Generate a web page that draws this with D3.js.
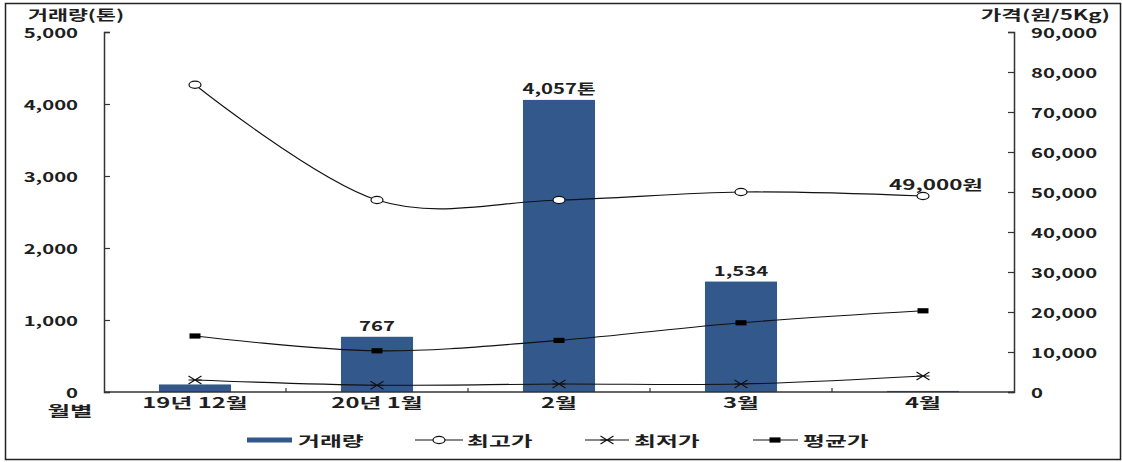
<!DOCTYPE html>
<html><head><meta charset="utf-8">
<script src="https://cdn.jsdelivr.net/npm/d3@7"></script>
<style>
html,body{margin:0;padding:0;background:#fff;}
svg text{font-family:"Noto Sans CJK KR","Noto Sans",sans-serif;font-weight:700;fill:#1e1e1e;}
</style></head>
<body><svg id="c" width="1122" height="462"></svg>
<script>
const categories = ["19년 12월", "20년 1월", "2월", "3월", "4월"];
const volume = [105, 767, 4057, 1534, 15];
const volumeLabels = ["", "767", "4,057톤", "1,534", ""];
const maxPrice = [76800, 48000, 48000, 50000, 49000];
const minPrice = [3000, 1700, 2000, 2000, 4000];
const avgPrice = [14000, 10300, 12900, 17300, 20300];
const maxPriceLabels = ["", "", "", "", "49,000원"];
const volumeTicks = [0, 1000, 2000, 3000, 4000, 5000];
const priceTicks = [0, 10000, 20000, 30000, 40000, 50000, 60000, 70000, 80000, 90000];
const seriesNames = ["거래량", "최고가", "최저가", "평균가"];

const svg = d3.select("#c");
const BAR = "#33598c";

function txt(x, y, s, anchor, size, sx) {
  return svg.append("text")
    .attr("transform", `translate(${x},${y}) scale(${sx || 1.45},1)`)
    .attr("text-anchor", anchor || "middle")
    .attr("dominant-baseline", "central")
    .style("font-size", (size || 14) + "px")
    .text(s);
}

// frame
svg.append("rect").attr("x", 5.5).attr("y", 3.5).attr("width", 1115).attr("height", 456)
  .attr("fill", "none").attr("stroke", "#222").attr("stroke-width", 1.5);

const L = 104, R = 1014, T = 32, B = 392;
const x = d3.scaleBand().domain(categories).range([L, R]).paddingInner(0.604).paddingOuter(0.302);
const cx = c => x(c) + x.bandwidth() / 2;
const yV = d3.scaleLinear().domain([0, 5000]).range([B, T]);
const yP = d3.scaleLinear().domain([0, 90000]).range([B, T]);

// bars
svg.append("g").selectAll("rect").data(categories).join("rect")
  .attr("x", c => x(c)).attr("width", x.bandwidth())
  .attr("y", (c, i) => yV(volume[i])).attr("height", (c, i) => B - yV(volume[i]))
  .attr("fill", BAR);

// axes
const gl = svg.append("g").attr("transform", `translate(${L},0)`)
  .call(d3.axisRight(yV).tickValues(volumeTicks).tickSize(6).tickFormat(""));
const gr = svg.append("g").attr("transform", `translate(${R},0)`)
  .call(d3.axisLeft(yP).tickValues(priceTicks).tickSize(6).tickFormat(""));
[gl, gr].forEach(g => {
  g.select(".domain").attr("stroke", "#333").attr("stroke-width", 1.5);
  g.selectAll(".tick line").attr("stroke", "#333").attr("stroke-width", 1.2);
});
svg.append("line").attr("x1", L).attr("x2", R).attr("y1", B).attr("y2", B)
  .attr("stroke", "#333").attr("stroke-width", 1.5);
const bounds = categories.slice(1).map(c => x(c) - x.step() * x.paddingInner() / 2);
svg.append("g").selectAll("line").data(bounds).join("line")
  .attr("x1", d => d).attr("x2", d => d).attr("y1", B).attr("y2", B - 4)
  .attr("stroke", "#333").attr("stroke-width", 1.2);

// tick labels
const fmt = d3.format(",");
volumeTicks.forEach(v => txt(78, yV(v), fmt(v), "end", 13.5, 1.5));
priceTicks.forEach(v => txt(1031, yP(v), fmt(v), "start", 13.5, 1.5));
categories.forEach(c => txt(cx(c), 402, c, "middle", 14, 1.7));

// axis titles
txt(28, 14, "거래량(톤)", "start", 14, 1.55);
txt(1110, 14, "가격(원/5Kg)", "end", 14, 1.6);
txt(70, 410, "월별", "middle", 14, 1.75);

// lines
const line = arr => d3.line().x((d, i) => cx(categories[i])).y(d => yP(d)).curve(d3.curveCardinal.tension(0))(arr);
[maxPrice, minPrice, avgPrice].forEach(arr => {
  svg.append("path").attr("d", line(arr)).attr("fill", "none").attr("stroke", "#111").attr("stroke-width", 1.1);
});

function circleMark(g, px, py) {
  g.append("ellipse").attr("cx", px).attr("cy", py).attr("rx", 6).attr("ry", 3.6)
    .attr("fill", "#fff").attr("stroke", "#111").attr("stroke-width", 1.2);
}
function starMark(g, px, py) {
  const w = 6.5, h = 4;
  g.append("path").attr("d", `M${px - w},${py - h}L${px + w},${py + h}M${px - w},${py + h}L${px + w},${py - h}M${px - w},${py}L${px + w},${py}`)
    .attr("stroke", "#111").attr("stroke-width", 1.1).attr("fill", "none");
}
function squareMark(g, px, py) {
  g.append("rect").attr("x", px - 5.5).attr("y", py - 2.6).attr("width", 11).attr("height", 5.2).attr("fill", "#000");
}
const gm = svg.append("g");
categories.forEach((c, i) => {
  circleMark(gm, cx(c), yP(maxPrice[i]));
  starMark(gm, cx(c), yP(minPrice[i]));
  squareMark(gm, cx(c), yP(avgPrice[i]));
});

// value labels
categories.forEach((c, i) => {
  if (volumeLabels[i]) txt(cx(c), yV(volume[i]) - 12, volumeLabels[i], "middle", 14, 1.45);
  if (maxPriceLabels[i]) txt(cx(c) + 13, yP(maxPrice[i]) - 12, maxPriceLabels[i], "middle", 14, 1.6);
});

// legend
const LY = 440;
const lg = svg.append("g");
lg.append("rect").attr("x", 247).attr("y", LY - 2.5).attr("width", 45).attr("height", 5).attr("fill", BAR);
txt(298, LY, seriesNames[0], "start", 14, 1.7);
lg.append("line").attr("x1", 415).attr("x2", 463).attr("y1", LY).attr("y2", LY).attr("stroke", "#111").attr("stroke-width", 1.1);
circleMark(lg, 439, LY);
txt(467, LY, seriesNames[1], "start", 14, 1.7);
lg.append("line").attr("x1", 585).attr("x2", 629).attr("y1", LY).attr("y2", LY).attr("stroke", "#111").attr("stroke-width", 1.1);
starMark(lg, 607, LY);
txt(634, LY, seriesNames[2], "start", 14, 1.7);
lg.append("line").attr("x1", 753).attr("x2", 798).attr("y1", LY).attr("y2", LY).attr("stroke", "#111").attr("stroke-width", 1.1);
squareMark(lg, 775, LY);
txt(803, LY, seriesNames[3], "start", 14, 1.7);
</script></body></html>
